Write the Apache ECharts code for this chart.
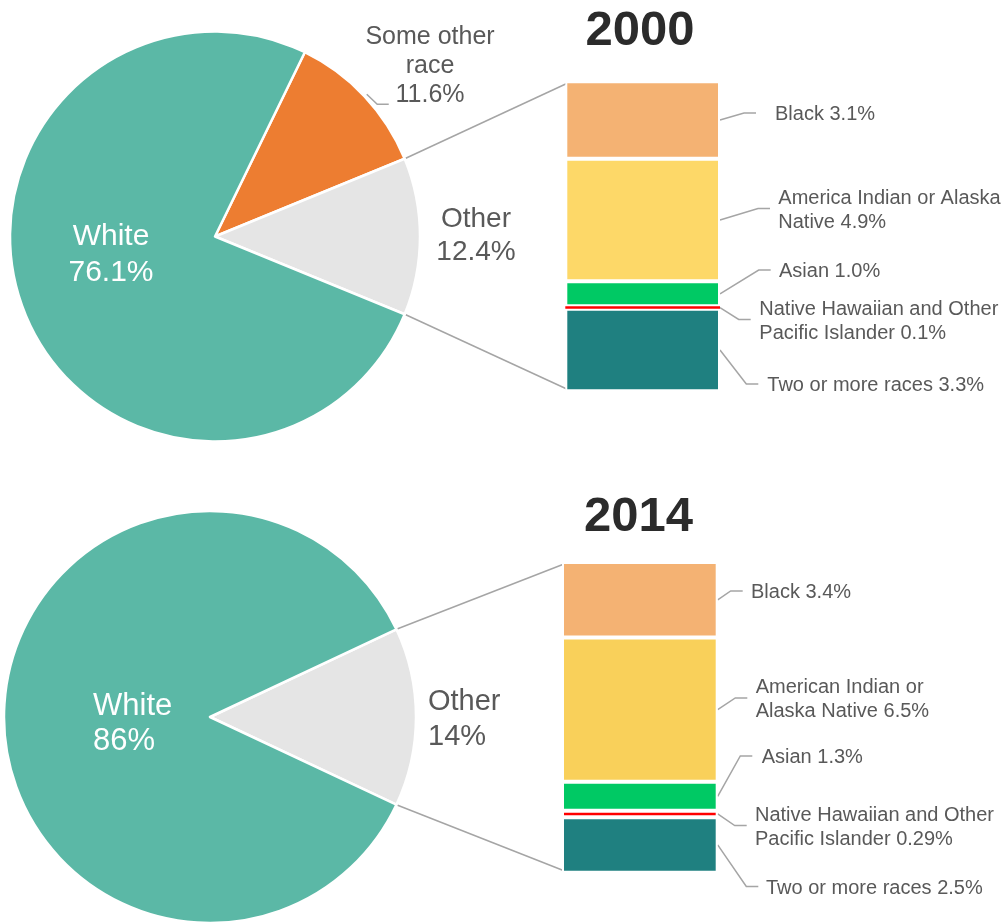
<!DOCTYPE html>
<html><head><meta charset="utf-8">
<script src="https://cdn.jsdelivr.net/npm/echarts@6/dist/echarts.min.js"></script>
<style>html,body{margin:0;padding:0;background:#fff}#c{width:1002px;height:923px}</style>
</head><body><div id="c"></div>
<script>
// ---------------- DATA ----------------
const years = ['2000', '2014'];
const pieNames2000 = ['Some other\nrace', 'Other', 'White'];
const pieValues2000 = [11.6, 12.4, 76.1];
const pieNames2014 = ['Other', 'White'];
const pieValues2014 = [14, 86];
const barNames2000 = ['Black', 'America Indian or Alaska\nNative', 'Asian', 'Native Hawaiian and Other\nPacific Islander', 'Two or more races'];
const barValues2000 = [3.1, 4.9, 1.0, 0.1, 3.3];
const barNames2014 = ['Black', 'American Indian or\nAlaska Native', 'Asian', 'Native Hawaiian and Other\nPacific Islander', 'Two or more races'];
const barValues2014 = [3.4, 6.5, 1.3, 0.29, 2.5];

// ---------------- STYLE / LAYOUT ----------------
const FONT = '"Liberation Sans", Arial, sans-serif';
const GRAY = '#595959';
const LINE = '#A5A5A5';
const pieColors2000 = ['#ED7D31', '#E5E5E5', '#5BB8A6'];
const pieColors2014 = ['#E5E5E5', '#5BB8A6'];
const barColors2000 = ['#F4B273', '#FDD868', '#00C964', '#FF0000', '#1F8080'];
const barColors2014 = ['#F4B273', '#F9D05A', '#00C964', '#FF0000', '#1F8080'];

const pieCfg = [
  { center: [215, 236.5], radius: 205, otherIndex: 1,
    labels: [
      { x: 430, y: 66, align: 'center', size: 25, lh: 29, color: GRAY },
      { x: 476, y: 236, align: 'center', size: 28, lh: 32.5, color: GRAY },
      { x: 111, y: 255, align: 'center', size: 30, lh: 36, color: '#fff' }
    ] },
  { center: [210, 717], radius: 206, otherIndex: 0,
    labels: [
      { x: 428, y: 719.5, align: 'left', size: 29, lh: 35.5, color: GRAY },
      { x: 93, y: 724, align: 'left', size: 31, lh: 35.5, color: '#fff' }
    ] }
];
const gridCfg = [
  { left: 565.3, top: 81.3, width: 154.7, height: 310 },
  { left: 562, top: 562, width: 155.7, height: 310.7 }
];
const barLabelPos = [
  [[775, 114.5], [778.3, 210], [779, 271.5], [759.3, 321], [767.3, 385.5]],
  [[751, 592.5], [755.7, 699.5], [761.7, 757.5], [755, 827], [766, 888]]
];
const barLabelGap = [[19, 8.3, 8.3, 8.6, 9], [8.3, 8.4, 9.4, 8.3, 7.7]];
const LEN2 = 12;
const BORDER = 2;
const nhBorder = [0, 2];
const yearPos = [[640, 31], [638.5, 517.5]];

// ---------------- BUILD ----------------
const pieNames = [pieNames2000, pieNames2014];
const pieValues = [pieValues2000, pieValues2014];
const pieColors = [pieColors2000, pieColors2014];
const barNames = [barNames2000, barNames2014];
const barValues = [barValues2000, barValues2014];
const barColors = [barColors2000, barColors2014];
const sum = a => a.reduce((s, v) => s + v, 0);
const fmtBar = v => Number.isInteger(v) ? v.toFixed(1) : String(v);

function pieStartAngle(p) {
  const vals = pieValues[p], tot = sum(vals), oi = pieCfg[p].otherIndex;
  let before = 0;
  for (let i = 0; i < oi; i++) before += vals[i];
  return (before + vals[oi] / 2) / tot * 360;
}

const series = [];
const grids = [], xAxes = [], yAxes = [];

for (let p = 0; p < 2; p++) {
  const cfg = pieCfg[p];
  series.push({
    type: 'pie',
    center: cfg.center,
    radius: cfg.radius,
    startAngle: pieStartAngle(p),
    clockwise: true,
    avoidLabelOverlap: false,
    silent: true,
    itemStyle: { borderColor: '#fff', borderWidth: 2.5 },
    labelLine: { show: false },
    data: pieNames[p].map((n, i) => ({
      name: n, value: pieValues[p][i],
      itemStyle: { color: pieColors[p][i] },
      label: {
        show: true, position: 'inside', formatter: '{b}\n{c}%',
        fontFamily: FONT, fontSize: cfg.labels[i].size, lineHeight: cfg.labels[i].lh,
        color: cfg.labels[i].color
      }
    })),
    labelLayout: function (params) {
      const L = cfg.labels[params.dataIndex];
      return { x: L.x, y: L.y, align: L.align, verticalAlign: 'middle' };
    }
  });

  grids.push(gridCfg[p]);
  xAxes.push({ type: 'category', gridIndex: p, data: [years[p]], show: false, boundaryGap: true });
  yAxes.push({ type: 'value', gridIndex: p, inverse: true, min: 0, max: sum(barValues[p]), show: false });

  barNames[p].forEach((n, i) => {
    const isNH = i === 3;
    series.push({
      type: 'bar', name: n, stack: 'y' + years[p],
      xAxisIndex: p, yAxisIndex: p,
      barWidth: '100%', silent: true,
      z: isNH ? 3 : 2,
      itemStyle: { color: barColors[p][i], borderColor: '#fff', borderWidth: isNH ? nhBorder[p] : BORDER },
      label: {
        show: true, position: 'right',
        formatter: () => n + ' ' + fmtBar(barValues[p][i]) + '%',
        fontFamily: FONT, fontSize: 20, lineHeight: 24, color: GRAY
      },
      labelLayout: { x: barLabelPos[p][i][0], y: barLabelPos[p][i][1], align: 'left', verticalAlign: 'middle' },
      data: [barValues[p][i]]
    });
  });
}

const chart = echarts.init(document.getElementById('c'), null, { renderer: 'canvas' });
chart.setOption({
  animation: false,
  backgroundColor: '#fff',
  grid: grids, xAxis: xAxes, yAxis: yAxes,
  series: series
});

// ---------------- ANNOTATIONS (computed from scales / pie geometry) ----------------
const graphics = [];
const ls = { stroke: LINE, lineWidth: 1.5, fill: null };
for (let p = 0; p < 2; p++) {
  const cfg = pieCfg[p], g = gridCfg[p];
  const vals = pieValues[p], tot = sum(vals);
  const half = vals[cfg.otherIndex] / 2 / tot * 360 * Math.PI / 180;
  const [cx, cy] = cfg.center, r = cfg.radius;
  const up = [cx + r * Math.cos(half), cy - r * Math.sin(half)];
  const dn = [cx + r * Math.cos(half), cy + r * Math.sin(half)];
  graphics.push({ type: 'line', silent: true, shape: { x1: up[0], y1: up[1], x2: g.left + 2, y2: g.top + 2 }, style: ls });
  graphics.push({ type: 'line', silent: true, shape: { x1: dn[0], y1: dn[1], x2: g.left + 2, y2: g.top + g.height - 2 }, style: ls });

  // bar leader lines
  let cum = 0;
  barValues[p].forEach((v, i) => {
    const ym = chart.convertToPixel({ gridIndex: p }, [0, cum + v / 2])[1];
    cum += v;
    const [lx, ly0] = barLabelPos[p][i];
    const ly = ly0 - 1.5;
    const gap = barLabelGap[p][i];
    graphics.push({ type: 'polyline', silent: true,
      shape: { points: [[g.left + g.width, ym], [lx - gap - LEN2, ly], [lx - gap, ly]] }, style: ls });
  });

  graphics.push({ type: 'text', silent: true, x: yearPos[p][0], y: yearPos[p][1],
    style: { text: years[p], font: 'bold 49px ' + FONT, fill: '#2b2b2b', align: 'center', verticalAlign: 'middle' } });
}
// small leader for "Some other race" slice (from slice mid-angle on the arc)
{
  const cfg = pieCfg[0], vals = pieValues[0], tot = sum(vals);
  const mid = (pieStartAngle(0) - vals[0] / 2 / tot * 360) * Math.PI / 180;
  const s = [cfg.center[0] + (cfg.radius + 3) * Math.cos(mid), cfg.center[1] - (cfg.radius + 3) * Math.sin(mid)];
  graphics.push({ type: 'polyline', silent: true,
    shape: { points: [s, [s[0] + 10.5, s[1] + 10], [s[0] + 22, s[1] + 10]] }, style: ls });
}
chart.setOption({ graphic: graphics });
</script>
</body></html>
